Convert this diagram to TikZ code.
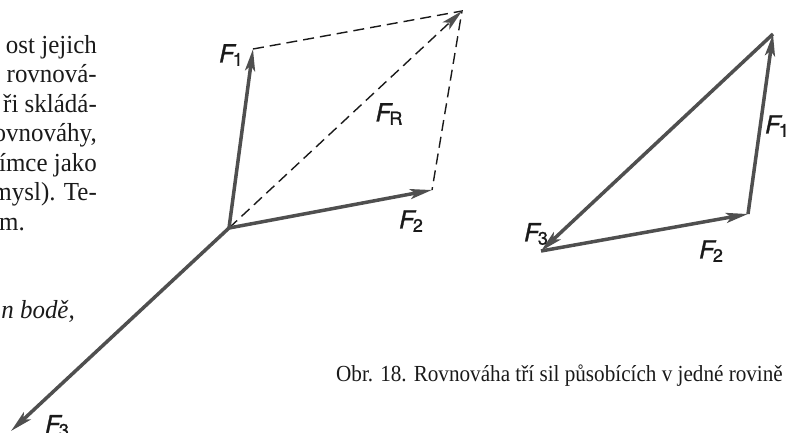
\documentclass[tikz,border=0pt]{standalone}
\usepackage{fontspec}
\setmainfont{Liberation Serif}
\newfontfamily\labfont{TeX Gyre Heros}[FakeBold=1.2]
\usetikzlibrary{arrows.meta}
\definecolor{vecgray}{HTML}{4F4F4F}
\definecolor{inkc}{HTML}{1A1A1A}
\newcommand{\Flab}[1]{{\labfont\fontsize{25}{25}\selectfont\itshape F}\kern-1.5pt\raisebox{-0.33em}{\labfont\fontsize{18}{18}\selectfont #1}}
\tikzset{
  vec/.style={draw=vecgray,line width=3.5pt,-{Stealth[length=22pt,width=10pt,inset=5pt,color=vecgray]}},
  dashline/.style={draw=inkc,line width=1.4pt,dash pattern=on 11pt off 6pt},
  body/.style={font=\fontsize{26}{30}\selectfont,text=inkc,inner sep=0pt},
  caption/.style={font=\fontsize{23}{27}\selectfont,text=inkc,inner sep=0pt},
  lab/.style={inner sep=0pt,text=inkc}
}
\begin{document}
\begin{tikzpicture}[x=1pt,y=-1pt]
\useasboundingbox (0,0) rectangle (792,432);
% left text fragment
\node[body,anchor=base east,xscale=0.96] (t1) at (97,53) {ost jejich};
\node[body,anchor=base east,xscale=0.96] (t2) at (97,82.5) {rovnová-};
\node[body,anchor=base east,xscale=0.96] (t3) at (97,112) {ři skládá-};
\node[body,anchor=base east,xscale=0.96] (t4) at (97,141.5) {ovnováhy,};
\node[body,anchor=base east,xscale=0.96] (t5) at (97,171) {ímce jako};
\node[body,anchor=base east,xscale=0.96] (t6) at (97,200.5) {mysl). Te-};
\node[body,anchor=base east,xscale=0.96] (t7) at (25,230) {em.};
\node[body,anchor=base east,xscale=0.96] (t8) at (75,318) {\itshape n bodě,};
% left force diagram
\coordinate (O) at (229,228);
\coordinate (P1) at (253,49);
\coordinate (P2) at (432,190);
\coordinate (PR) at (462,11);
\coordinate (P3) at (11,431);
\draw[dashline] (P1) -- (PR) -- (P2);
\draw[dashline,-{Stealth[length=22pt,width=10pt,inset=5pt,color=vecgray]}] (O) -- (PR);
\draw[vec] (O) -- (P1);
\draw[vec] (O) -- (P2);
\draw[vec] (O) -- (P3);
\node[lab] (lF1) at (231,55) {\Flab{1}};
\node[lab] (lFR) at (389,114) {\Flab{R}};
\node[lab] (lF2) at (411,221) {\Flab{2}};
\node[lab] (lF3) at (57,426) {\Flab{3}};
% right force triangle
\coordinate (A) at (541,251);
\coordinate (B) at (748,214);
\coordinate (C) at (773,34);
\draw[vec] (A) -- (B);
\draw[vec] (B) -- (C);
\draw[vec] (C) -- (A);
\node[lab] (rF1) at (777,126) {\Flab{1}};
\node[lab] (rF3) at (536,234) {\Flab{3}};
\node[lab] (rF2) at (711,251) {\Flab{2}};
% caption
\node[caption,anchor=base west,xscale=0.92] (cap) at (336,381) {Obr. 18. Rovnováha tří sil působících v jedné rovině};
\end{tikzpicture}
\end{document}
